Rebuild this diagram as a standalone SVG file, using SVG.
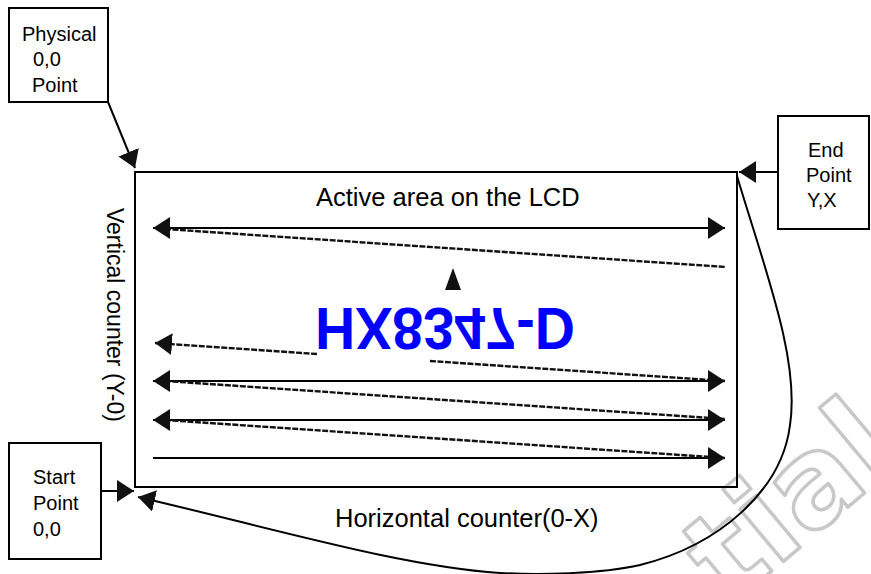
<svg xmlns="http://www.w3.org/2000/svg" width="871" height="574" viewBox="0 0 871 574">
<style>
.box{fill:#fff;stroke:#000;stroke-width:2}
.frame{fill:none;stroke:#000;stroke-width:2}
.lbl{font-family:"Liberation Sans",Arial,sans-serif;font-size:20px;fill:#000}
.big{font-size:25.5px}
.solid{stroke:#000;stroke-width:2;fill:none}
.dash{stroke:#111;stroke-width:2.4;stroke-dasharray:6 1.5;fill:none}
.wm{font-family:"DejaVu Sans",sans-serif;font-weight:bold;fill:none;stroke:#c8c8c8;stroke-width:3.5;stroke-linejoin:round}
</style>
<defs>
<marker id="ah" viewBox="0 0 17 22" refX="17" refY="11" markerWidth="17" markerHeight="22" markerUnits="userSpaceOnUse" orient="auto-start-reverse">
<path d="M0,0 L17,11 L0,22 z" fill="#111"/>
</marker>
</defs>
<g id="watermark">
<text class="wm" font-size="124" transform="translate(730,606) rotate(-40)">tial</text>
</g>
<g id="lcd">
<rect class="frame" x="135" y="172" width="602" height="315"/>
<text class="lbl big" x="316" y="206">Active area on the LCD</text>
<text class="lbl big" x="335" y="527">Horizontal counter(0-X)</text>
<text class="lbl" transform="translate(107,208) rotate(90)" style="font-size:23px">Vertical counter (Y-0)</text>
<polygon points="453,268 445,290 461,290" fill="#111"/>
<text x="315" y="-308" transform="scale(1,-1)" font-family="Liberation Sans, Arial, sans-serif" font-weight="bold" font-size="60" fill="#0000ff" textLength="260" lengthAdjust="spacingAndGlyphs">HX8347-D</text>
</g>
<g id="physical">
<rect class="box" x="9" y="8" width="99" height="94"/>
<text class="lbl" x="22" y="41">Physical</text>
<text class="lbl" x="33" y="66">0,0</text>
<text class="lbl" x="32" y="92">Point</text>
</g>
<g id="endpoint">
<rect class="box" x="778" y="116" width="91" height="113"/>
<text class="lbl" x="808" y="157">End</text>
<text class="lbl" x="806" y="182">Point</text>
<text class="lbl" x="807" y="207">Y,X</text>
</g>
<g id="startpoint">
<rect class="box" x="9" y="443" width="92" height="116"/>
<text class="lbl" x="33" y="484">Start</text>
<text class="lbl" x="33" y="510">Point</text>
<text class="lbl" x="33" y="536">0,0</text>
</g>
<g id="connectors">
<line class="solid" x1="108" y1="102" x2="135" y2="168" marker-end="url(#ah)"/>
<line class="solid" x1="778" y1="172" x2="739" y2="172" marker-end="url(#ah)"/>
<line class="solid" x1="101" y1="491" x2="134" y2="491" marker-end="url(#ah)"/>
<path class="solid" d="M737,176 C765,270 800,360 790,425 C782,490 720,545 640,565 C600,574 540,575 500,573 C400,566 280,530 138,497" marker-end="url(#ah)"/>
<line class="solid" x1="153" y1="228" x2="725" y2="228" marker-start="url(#ah)" marker-end="url(#ah)"/>
<line class="solid" x1="153" y1="381" x2="725" y2="381" marker-start="url(#ah)" marker-end="url(#ah)"/>
<line class="solid" x1="153" y1="420" x2="725" y2="420" marker-start="url(#ah)" marker-end="url(#ah)"/>
<line class="solid" x1="153" y1="458" x2="725" y2="458" marker-end="url(#ah)"/>
<line class="dash" x1="165" y1="229" x2="726" y2="267"/>
<line class="dash" x1="317" y1="354" x2="155" y2="343" marker-end="url(#ah)"/>
<line class="dash" x1="430" y1="361" x2="725" y2="381"/>
<line class="dash" x1="165" y1="381" x2="725" y2="419"/>
<line class="dash" x1="165" y1="420" x2="725" y2="458"/>
</g>
</svg>
